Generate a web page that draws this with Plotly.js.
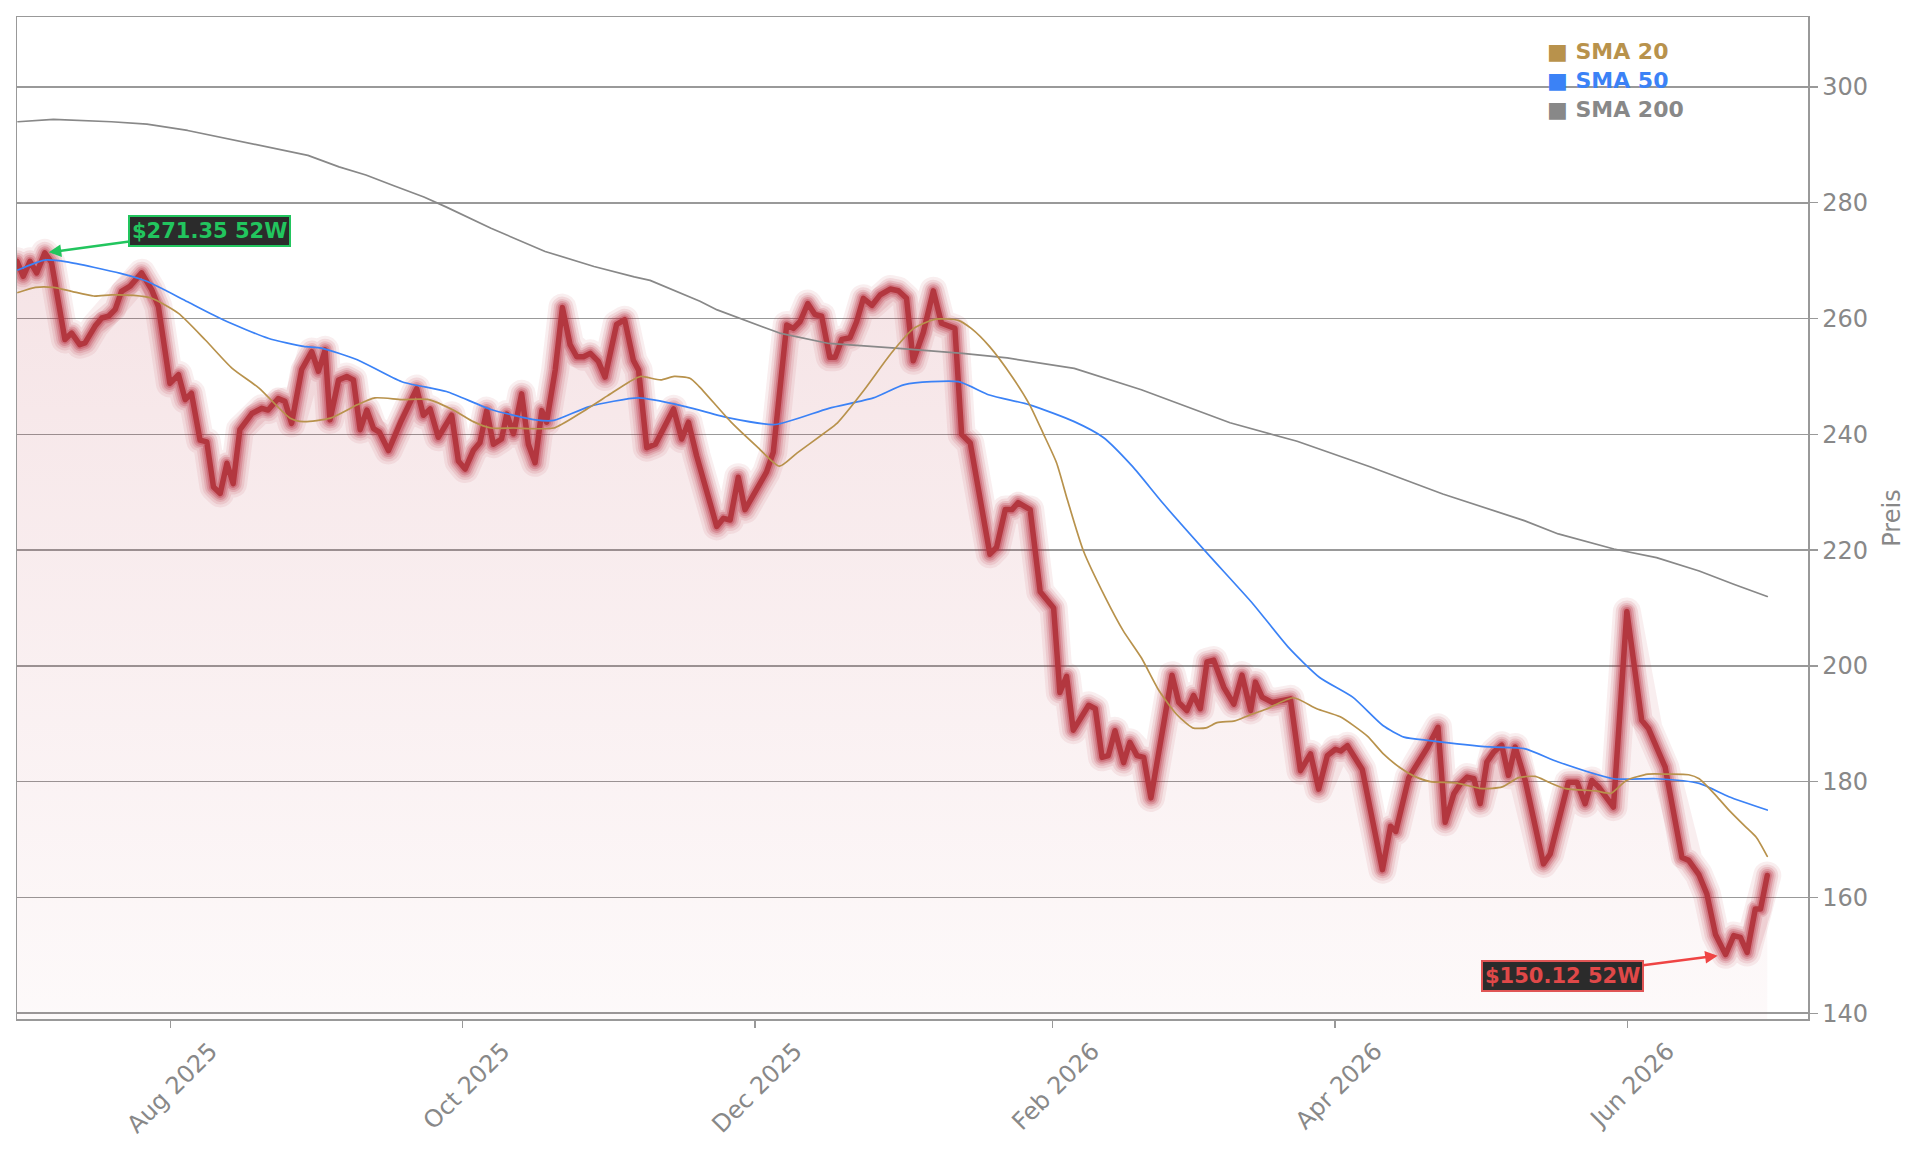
<!DOCTYPE html>
<html><head><meta charset="utf-8">
<script src="https://cdn.plot.ly/plotly-3.0.1.min.js"></script>
<style>
html,body{margin:0;padding:0;background:#fff;}
#chart{width:1921px;height:1151px;}
.js-line{stroke-linejoin:round !important;stroke-linecap:round !important;}
</style></head><body><div id="chart"></div>
<script>
// days since 2025-06-30 for each price point
const priceDay = [
 0, 1.3, 2.7, 4.1, 5.8, 7.2, 10, 11.4, 13.1, 14.2,
 16.3, 17.7, 19.1, 20.5, 21.8, 23.6, 26, 28.1, 29.5, 31.9,
 33.7, 35.1, 36.4, 38.2, 39.6, 41, 42.4, 43.8, 45.1, 46.5,
 49, 51.1, 52.4, 54.5, 55.9, 57.3, 59.4, 61.5, 62.9, 64.3,
 65.3, 67.1, 68.8, 70.2, 71.6, 73, 74.4, 75.6, 77.5, 80.2,
 83.4, 84.8, 86.2, 87.9, 90.7, 92.1, 93.5, 95.2, 96.6, 98,
 99.4, 101.1, 102.2, 103.6, 105.3, 106.7, 108.1, 109.5, 110.5, 112.3,
 113.8, 115.4, 116.8, 118.2, 119.6, 121.3, 122.7, 125.1, 126.8, 128.6,
 129.7, 131.4, 133.2, 134.9, 137, 138.7, 140.1, 141.8, 143.2, 146,
 147.4, 148.8, 150.5, 151.9, 156.4, 157.8, 160.6, 162, 163.4, 165,
 166.5, 167.9, 169.6, 170.7, 172.1, 173.8, 175.2, 176.6, 178.4, 180.1,
 182.2, 183.9, 185.6, 187, 189.1, 191.2, 192.9, 195.7, 197.1, 198.9,
 203, 204.4, 206.2, 207.6, 208.9, 211.4, 213.5, 216.3, 217.6, 219,
 220.4, 223.6, 225, 226.4, 227.7, 229.1, 230.9, 232.2, 233.7, 235.1,
 236.6, 238.5, 241, 242.4, 244.1, 245.5, 246.9, 248.3, 249.7, 251.8,
 253.9, 255.6, 257.4, 258.4, 259.8, 261.9, 263.6, 265.7, 267.8, 269.9,
 271.6, 273.4, 275.1, 276.2, 277.6, 280.7, 284.9, 286.6, 287.7, 290.4,
 294.3, 296.5, 298, 299.8, 301.2, 302.6, 304, 305.3, 306.7, 308.1,
 309.8, 311.2, 312.6, 314.7, 318.5, 319.9, 323.7, 325.5, 327.2, 328.6,
 330, 333.1, 335.9, 339, 340.4, 343.9, 347.4, 348.8, 350.9, 352.6,
 354.4, 356.5, 358.2, 359.6, 361, 362.7, 363.8, 365.2
];
const priceVal = [
 269.9, 267.3, 269.9, 267.9, 271.35, 269.7, 256.4, 257.5, 255.5, 255.8,
 258.7, 260.1, 260.4, 261.6, 264.7, 265.6, 267.9, 265.0, 262.1, 248.8,
 250.3, 246.0, 247.1, 239.0, 238.7, 230.9, 229.8, 235.0, 231.5, 240.8,
 243.6, 244.5, 244.2, 246.2, 245.7, 241.9, 251.2, 254.3, 250.9, 254.6,
 242.5, 249.4, 250.0, 249.4, 240.8, 244.2, 241.0, 240.4, 237.2, 242.4,
 247.9, 243.3, 244.4, 239.5, 243.3, 235.4, 234.0, 237.2, 238.6, 244.1,
 238.3, 239.2, 243.5, 240.1, 247.0, 238.3, 235.1, 244.1, 242.1, 251.1,
 261.9, 255.5, 253.4, 253.4, 254.0, 252.6, 249.9, 259.0, 259.8, 252.8,
 251.1, 237.7, 238.3, 241.2, 244.4, 239.2, 242.1, 236.3, 232.5, 224.1,
 225.5, 225.2, 232.6, 227.0, 233.5, 236.9, 258.9, 258.3, 259.5, 262.6,
 260.7, 260.4, 253.3, 253.3, 256.4, 256.7, 259.5, 263.5, 262.3, 264.1,
 265.1, 264.8, 263.5, 252.7, 257.6, 264.8, 259.2, 258.3, 240.0, 238.5,
 219.3, 220.5, 227.0, 227.0, 228.2, 227.0, 212.8, 210.0, 195.4, 198.2,
 188.9, 193.2, 192.6, 184.2, 184.5, 188.8, 183.3, 186.8, 184.5, 184.2,
 177.2, 185.9, 198.4, 193.7, 192.3, 194.9, 192.6, 200.7, 201.0, 196.3,
 193.4, 198.4, 192.3, 197.2, 194.6, 193.7, 194.0, 194.3, 181.9, 184.8,
 178.7, 184.5, 185.6, 185.3, 186.2, 182.1, 164.8, 172.3, 171.4, 180.7,
 185.9, 189.4, 173.0, 177.9, 179.7, 180.8, 180.5, 176.2, 183.4, 185.1,
 186.3, 181.1, 186.0, 180.2, 165.8, 167.5, 179.9, 179.9, 176.2, 180.2,
 179.1, 175.6, 209.4, 190.6, 189.2, 182.5, 166.9, 166.4, 164.0, 160.6,
 153.6, 150.12, 153.4, 153.1, 150.5, 158.0, 158.0, 163.8
];
const sma20Day = [0.2,3.9,7.6,11.4,16,19.7,24.4,28.1,33.7,39.3,44.9,50.5,57,59.8,65.4,71,74.7,80.3,85.9,91.5,95.2,98.9,103.6,112,117.6,123.1,127.8,130.1,134.3,137.1,140.4,142.3,148.9,154.4,159.1,162.8,168.4,171.2,176.8,182.4,187.1,191.7,196.4,199.1,202.9,207.6,211.3,214.1,216.9,219.2,222.5,227.1,230.8,234.6,238.3,242,245.3,248.1,250.4,254.1,256.9,260.6,266.3,271.2,276.1,281.7,285.1,288.6,291.4,294.9,300.1,305.7,309.9,313.3,316.8,319.6,323.1,329.4,332.6,335.8,340.3,344.5,348.8,351,354.5,357.3,360.8,362.9,365.2];
const sma20Val = [264.5,265.4,265.4,264.7,263.9,264.1,264,263.5,260.9,256.3,251.4,248,242.8,242.2,242.8,245.1,246.3,246,246,244,242.2,241.1,241.1,241.1,243.7,246.6,249.1,250,249.4,250,249.7,248.3,242.2,237.9,234.5,236.8,240.2,242,247.7,254,258.3,259.9,259.7,258.3,255.2,250,245.1,240.2,235.1,228.6,219.9,211.8,206.1,201.4,195.7,191.6,189.3,189.3,190.2,190.5,191.4,192.5,194.5,192.6,191.2,187.9,184.8,182.4,181,180,179.8,178.8,179.1,180.7,180.9,179.9,178.8,178.4,178,180.2,181.3,181.3,181.2,180.5,177.6,175,172.1,170.4,167.1];
const sma50Day = [0.2,5.8,10.4,21.6,27.2,35.6,43,52.4,59.8,63.5,71,80.3,89.6,98.9,108.2,112,119.4,129.7,139.5,148.8,158.2,169.4,178.7,185.2,196.4,202.9,211.3,220.6,226.6,232.7,239.2,248.5,257.9,265.3,271.8,278.7,285,289.4,294.8,307.3,314.5,321.6,333.2,342.1,351,357.2,365.2];
const sma50Val = [268.4,270.1,269.8,267.8,266.4,262.9,259.8,256.6,255.2,254.9,252.9,249.1,247.4,244.3,242.5,242.4,244.8,246.3,244.8,242.8,241.7,244.5,246.3,248.6,249.1,246.8,245.1,242.2,239.5,234.5,228,219.3,210.7,203.2,198,194.6,189.7,187.7,187.1,186,185.7,183.4,180.5,180.5,179.7,177.4,175.1];
const sma200Day = [0.2,7.6,19.7,27.1,35.6,44.9,60.7,67.2,72.8,78.5,84.9,89.5,98.9,110.2,120.4,128.8,132.1,142.5,146.1,159.1,169.4,183.3,197.3,206.6,220.6,234.6,253.1,267.1,282.3,297.5,314.5,321.6,333.2,342.1,351,358.2,365.2];
const sma200Val = [294.0,294.4,294.0,293.6,292.5,290.9,288.2,286.2,284.8,283,281,279.3,275.6,271.6,269,267.2,266.6,263,261.5,257.5,255.7,254.9,254,253.2,251.4,247.7,242,238.8,234.4,229.7,225.1,222.8,220.2,218.7,216.4,214.1,212];
const tickDates = ['2025-08-01','2025-10-01','2025-12-01','2026-02-01','2026-04-01','2026-06-01'];
const tickLabels = ['Aug 2025','Oct 2025','Dec 2025','Feb 2026','Apr 2026','Jun 2026'];
const yTicks = [140,160,180,200,220,240,260,280,300];
const legendNames = ['SMA 20','SMA 50','SMA 200'];

const START = Date.UTC(2025,5,30);
function toDate(d){ return new Date(START + d*86400000).toISOString().slice(0,19).replace('T',' '); }
const px = priceDay.map(toDate);

const C20='#b8924c', C50='#3b82f6', C200='#888888';
const traces = [];
traces.push({x:px, y:priceVal, mode:'lines', line:{width:0, color:'rgba(0,0,0,0)'}, fill:'tozeroy',
  fillgradient:{type:'vertical', start:139, stop:272, colorscale:[[0,'rgba(178,34,52,0.025)'],[1,'rgba(178,34,52,0.125)']]},
  hoverinfo:'skip'});
[[28,0.08],[22,0.11],[17,0.15],[13,0.21],[9,0.28]].forEach(([w,a])=>{
  traces.push({x:px, y:priceVal, mode:'lines', line:{width:w, color:`rgba(178,34,52,${a})`}, hoverinfo:'skip'});
});
traces.push({x:px, y:priceVal, mode:'lines', line:{width:5.5, color:'#b3373f'}, name:'Preis'});
traces.push({x:sma200Day.map(toDate), y:sma200Val, mode:'lines', line:{width:1.7, color:C200}, name:legendNames[2]});
traces.push({x:sma50Day.map(toDate), y:sma50Val, mode:'lines', line:{width:1.7, color:C50, shape:'spline', smoothing:0.6}, name:legendNames[1]});
traces.push({x:sma20Day.map(toDate), y:sma20Val, mode:'lines', line:{width:1.7, color:C20, shape:'spline', smoothing:0.6}, name:legendNames[0]});

// 52W high / low
let hi=0, lo=0;
priceVal.forEach((v,i)=>{ if(v>priceVal[hi]) hi=i; if(v<priceVal[lo]) lo=i; });

const annFont = {family:'DejaVu Sans', size:21, weight:'bold'};
const annotations = [
 {x:px[hi], y:priceVal[hi], xref:'x', yref:'y', text:'$'+priceVal[hi].toFixed(2)+' 52W', showarrow:true,
  arrowhead:2, arrowsize:1, arrowwidth:2.5, arrowcolor:'#22c55e', ax:165, ay:-22, standoff:4,
  font:Object.assign({color:'#22c55e'},annFont), bgcolor:'#2b2b2b', bordercolor:'#22c55e', borderwidth:2, borderpad:2},
 {x:px[lo], y:priceVal[lo], xref:'x', yref:'y', text:'$'+priceVal[lo].toFixed(2)+' 52W', showarrow:true,
  arrowhead:2, arrowsize:1, arrowwidth:2.5, arrowcolor:'#ef4444', ax:-163, ay:21, standoff:8,
  font:Object.assign({color:'#e04848'},annFont), bgcolor:'#2b2b2b', bordercolor:'#e05555', borderwidth:2, borderpad:2}
];
const legColors=[C20,C50,C200];
const legY=[0.9651,0.9363,0.9077];
legendNames.forEach((n,i)=>{
  annotations.push({xref:'paper', yref:'paper', x:0.8532, y:legY[i], xanchor:'left', yanchor:'middle', showarrow:false,
    text:'■ '+n, font:{family:'DejaVu Sans', size:22, weight:'bold', color:legColors[i]}});
});

const axFont = {family:'DejaVu Sans', size:24, color:'#888'};
const layout = {
  width:1921, height:1151,
  margin:{l:17, r:113, t:17, b:132},
  paper_bgcolor:'#fff', plot_bgcolor:'#fff',
  showlegend:false,
  font:{family:'DejaVu Sans', color:'#888'},
  xaxis:{type:'date', range:[toDate(0), toDate(373.7)], showgrid:false, zeroline:false,
    showline:true, linecolor:'#999', linewidth:1.5, mirror:true,
    ticks:'outside', ticklen:7, tickwidth:1.3, tickcolor:'#999',
    tickvals:tickDates, ticktext:tickLabels, tickangle:-45, tickfont:axFont, ticklabelshift:40},
  yaxis:{side:'right', range:[139,312.1], tickvals:yTicks, showgrid:true, gridcolor:'#999', gridwidth:1.5,
    zeroline:false, showline:true, linecolor:'#999', linewidth:1.5, mirror:true,
    ticks:'outside', ticklen:8, tickwidth:1.3, tickcolor:'#999', tickfont:axFont,
    title:{text:'Preis', font:axFont, standoff:16}},
  annotations:annotations
};
Plotly.newPlot('chart', traces, layout, {staticPlot:true, displayModeBar:false});
</script>
</body></html>
